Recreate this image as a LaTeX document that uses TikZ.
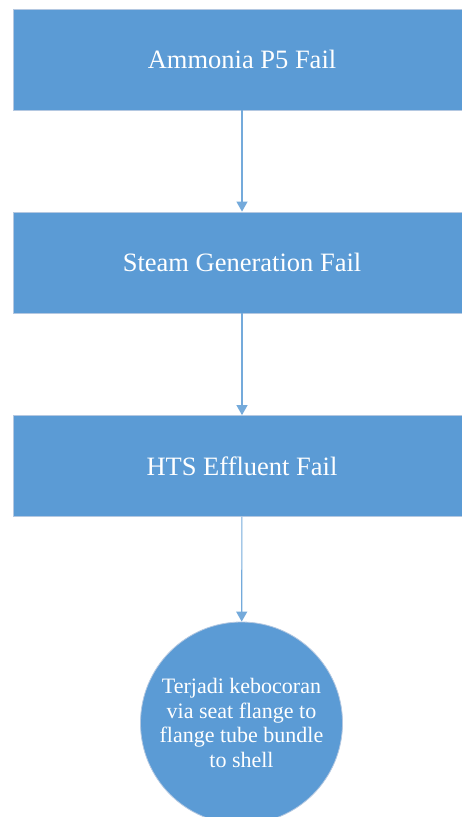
\documentclass[tikz,border=0pt]{standalone}
\usepackage{fontspec}
\setmainfont{Liberation Serif}
\usetikzlibrary{arrows.meta}
\definecolor{stepblue}{HTML}{5B9BD5}
\definecolor{stepedge}{HTML}{B4C8E1}
\tikzset{
  failbox/.style={rectangle, fill=stepblue, draw=stepedge, line width=0.8pt,
    minimum width=458pt, minimum height=101pt, inner sep=0pt, text=white,
    font=\fontsize{26.5}{30}\selectfont},
  leakcircle/.style={circle, fill=stepblue, draw=stepedge, line width=0.8pt,
    minimum size=202pt, inner sep=0pt, text=white, align=center,
    font=\fontsize{22}{24.5}\selectfont},
  flow/.style={draw=stepblue!85, line width=1.1pt, -{Triangle[width=11pt,length=10pt]}}
}
\begin{document}
\begin{tikzpicture}[x=1pt, y=-1pt]
    \clip (0, 0) rectangle (462, 817);
    \fill[white] (0, 0) rectangle (462, 817);
    % chain of failures
    \node[failbox] (ammonia) at (242, 59.5) {Ammonia P5 Fail};
    \node[failbox] (steam) at (242, 262.5) {Steam Generation Fail};
    \node[failbox] (hts) at (242, 466) {HTS Effluent Fail};
    \node[leakcircle] (leak) at (241.5, 723)
      {Terjadi kebocoran\\via seat flange to\\flange tube bundle\\to shell};
    \draw[flow] (ammonia) -- (steam);
    \draw[flow] (steam) -- (hts);
    \draw[flow] (hts) -- (leak);
  \end{tikzpicture}
\end{document}
